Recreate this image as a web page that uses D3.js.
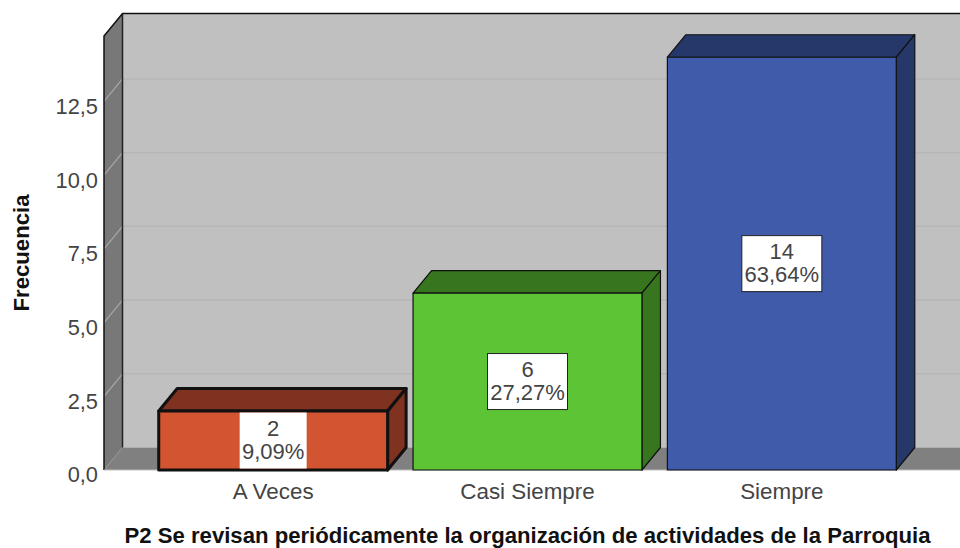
<!DOCTYPE html>
<html><head><meta charset="utf-8">
<script src="https://cdn.jsdelivr.net/npm/d3@7/dist/d3.min.js"></script>
<style>html,body{margin:0;padding:0;background:#fff}svg{display:block}text{font-family:"Liberation Sans",Arial,sans-serif}</style>
</head><body><svg id="c" width="960" height="548"></svg>
<script>
const categories=["A Veces","Casi Siempre","Siempre"];
const counts=[2,6,14];
const percents=["9,09%","27,27%","63,64%"];
const tickValues=[0,2.5,5,7.5,10,12.5];
const frontColors=["#D25430","#5DC535","#3F5BA9"];
const darkColors=["#803220","#38751F","#26376A"];
const strokeWidths=[3,1.2,1.2];
const xTitle="P2 Se revisan periódicamente la organización de actividades de la Parroquia";
const yTitle="Frecuencia";

const svg=d3.select("#c");
const dx=18.5,dy=-22.5;
const y=d3.scaleLinear().domain([0,14.72]).range([470,36]);
const x=d3.scaleBand().domain(categories).range([146,909]).paddingInner(0.1).paddingOuter(0.05);
const left=104,right=960,fmt=d3.format(".1f");
const pts=a=>a.map(p=>p.join(",")).join(" ");

// walls
svg.append("rect").attr("x",left+dx).attr("y",y.range()[1]+dy).attr("width",right-left-dx).attr("height",y(0)-y.range()[1]).attr("fill","#C0C0C0");
svg.append("polygon").attr("points",pts([[left,y(0)],[left+dx,y(0)+dy],[left+dx,y.range()[1]+dy],[left,y.range()[1]]])).attr("fill","#787878");
svg.append("polygon").attr("points",pts([[left,y(0)],[left+dx,y(0)+dy],[right,y(0)+dy],[right,y(0)]])).attr("fill","#808080");

// gridlines
tickValues.slice(1).forEach(t=>{
  svg.append("line").attr("x1",left+dx).attr("x2",right).attr("y1",y(t)+dy).attr("y2",y(t)+dy).attr("stroke","#B6B6B6").attr("stroke-width",1.5);
  svg.append("line").attr("x1",left).attr("x2",left+dx).attr("y1",y(t)).attr("y2",y(t)+dy).attr("stroke","#A8A8A8").attr("stroke-width",1.2);
});
// frame
svg.append("path").attr("d",`M${left},${y(0)}V${y.range()[1]}L${left+dx},${y.range()[1]+dy}H${right}`).attr("fill","none").attr("stroke","#111").attr("stroke-width",1.5);
svg.append("line").attr("x1",left+dx).attr("x2",left+dx).attr("y1",y.range()[1]+dy).attr("y2",y(0)+dy).attr("stroke","#222").attr("stroke-width",1.5);
svg.append("line").attr("x1",left).attr("x2",right).attr("y1",y(0)).attr("y2",y(0)).attr("stroke","#BDBDBD").attr("stroke-width",1);

// y axis
const yAxis=d3.axisLeft(y).tickValues(tickValues).tickSize(0).tickPadding(6).tickFormat(d=>fmt(d).replace(".",","));
const ga=svg.append("g").attr("transform",`translate(${left},5)`).call(yAxis);
ga.select(".domain").remove();
ga.selectAll("text").attr("font-size",21.8).attr("fill","#444").attr("font-family","Liberation Sans").attr("dy","0.32em");

// bars
categories.forEach((c,i)=>{
  const x0=x(c),x1=x0+x.bandwidth(),t=y(counts[i]),b=y(0);
  const g=svg.append("g").attr("stroke","#111").attr("stroke-width",strokeWidths[i]).attr("stroke-linejoin","round");
  g.append("polygon").attr("points",pts([[x0,t],[x0+dx,t+dy],[x1+dx,t+dy],[x1,t]])).attr("fill",darkColors[i]);
  g.append("polygon").attr("points",pts([[x1,t],[x1+dx,t+dy],[x1+dx,b+dy],[x1,b]])).attr("fill",darkColors[i]);
  g.append("rect").attr("x",x0).attr("y",t).attr("width",x1-x0).attr("height",b-t).attr("fill",frontColors[i]);
  const cx=(x0+x1)/2,cy=(t+b)/2;
  const w=i===0?67:80,h=i===0?b-t-3:56;
  svg.append("rect").attr("x",cx-w/2).attr("y",cy-h/2).attr("width",w).attr("height",h)
    .attr("fill","#fff").attr("stroke",i===0?"none":"#222").attr("stroke-width",1);
  svg.append("text").attr("x",cx).attr("y",cy-5).attr("text-anchor","middle").attr("font-size",22).attr("fill","#444").text(counts[i]);
  svg.append("text").attr("x",cx).attr("y",cy+18).attr("text-anchor","middle").attr("font-size",22).attr("fill","#444").text(percents[i]);
  svg.append("text").attr("x",cx).attr("y",499).attr("text-anchor","middle").attr("font-size",22.4).attr("fill","#444").text(c);
});

svg.append("text").attr("x",527.5).attr("y",543).attr("text-anchor","middle").attr("font-size",22.15).attr("font-weight","bold").attr("fill","#111").text(xTitle);
svg.append("text").attr("transform","translate(29,253) rotate(-90)").attr("text-anchor","middle").attr("font-size",22.15).attr("font-weight","bold").attr("fill","#111").text(yTitle);
</script></body></html>
